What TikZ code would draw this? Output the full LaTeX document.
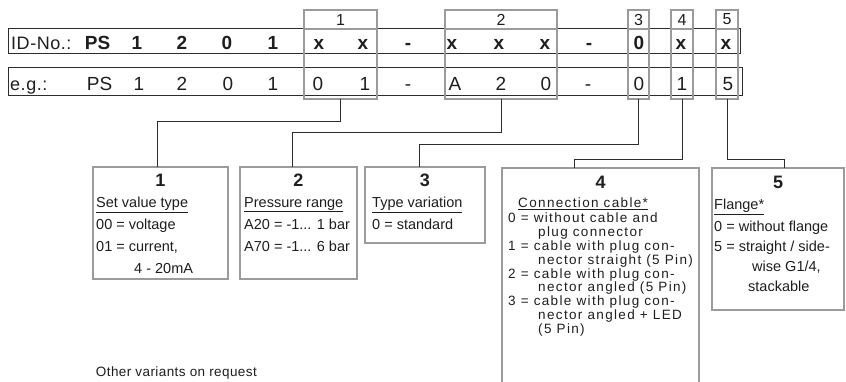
\documentclass[tikz,border=0pt]{standalone}
\usepackage{fontspec}
\setmainfont{Liberation Sans}
\newfontfamily\spacedfont[LetterSpace=10]{Liberation Sans}
\newfontfamily\labelfont[LetterSpace=3]{Liberation Sans}
\usetikzlibrary{positioning}
\definecolor{framegray}{RGB}{155,155,155}
\definecolor{wiredark}{RGB}{45,45,45}
\definecolor{textdark}{RGB}{30,30,30}

\begin{document}
\begin{tikzpicture}[x=1pt, y=-1pt, every node/.style={text=textdark, inner sep=0pt},
  rowframe/.style={draw=wiredark, line width=1pt, anchor=north west, outer sep=0pt},
  colhead/.style={draw=framegray, line width=2.2pt, minimum height=19pt, outer sep=0pt, font=\fontsize{16}{16}\selectfont},
  colbody/.style={draw=framegray, line width=2.2pt, minimum height=70pt, outer sep=0pt},
  idchar/.style={anchor=base, font=\bfseries\fontsize{19}{19}\selectfont},
  egchar/.style={anchor=base, font=\fontsize{19}{19}\selectfont},
  infobox/.style={draw=framegray, line width=2.2pt, anchor=north west, outer sep=0pt},
  infonum/.style={anchor=base, font=\bfseries\fontsize{18}{18}\selectfont},
  infotext/.style={anchor=north west, align=left, font=\fontsize{14.5}{22}\selectfont},
  wire/.style={draw=wiredark, line width=0.9pt}]

\clip (0,0) rectangle (846,382);

% code rows
\node[rowframe, minimum width=732pt, minimum height=25pt] (idrow) at (8,29) {};
\node[rowframe, minimum width=734pt, minimum height=28pt] (egrow) at (8,68) {};
\node[anchor=base west, font=\labelfont\fontsize{18}{18}\selectfont] (idlabel) at (11,49.5) {ID-No.:};
\node[anchor=base west, font=\labelfont\fontsize{18}{18}\selectfont] (eglabel) at (10,91) {e.g.:};
\foreach \n/\x/\t in {1/97.5/PS, 2/137/1, 3/182/2, 4/227/0, 5/273/1, 6/319/x, 7/363/x, 8/408/-,
    9/452/x, 10/499/x, 11/545/x, 12/589/-, 13/639/0, 14/681/x, 15/726/x}
  \node[idchar] (id\n) at (\x,49.5) {\t};
\foreach \n/\x/\t in {1/99.5/PS, 2/139/1, 3/182/2, 4/228/0, 5/273/1, 6/318/0, 7/365/1, 8/408/-,
    9/455/A, 10/501/2, 11/546/0, 12/588/-, 13/639/0, 14/682/1, 15/728/5}
  \node[egchar] (eg\n) at (\x,91) {\t};

% column frames
\node[colhead, minimum width=73pt] (h1) at (340.5,19.5) {1};
\node[colbody, minimum width=73pt, below=0pt of h1] (c1) {};
\node[colhead, minimum width=112pt] (h2) at (501,19.5) {2};
\node[colbody, minimum width=112pt, below=0pt of h2] (c2) {};
\node[colhead, minimum width=21pt] (h3) at (638.5,19.5) {3};
\node[colbody, minimum width=21pt, below=0pt of h3] (c3) {};
\node[colhead, minimum width=22pt] (h4) at (682,19.5) {4};
\node[colbody, minimum width=22pt, below=0pt of h4] (c4) {};
\node[colhead, minimum width=22pt] (h5) at (727,19.5) {5};
\node[colbody, minimum width=22pt, below=0pt of h5] (c5) {};

% explanation boxes
\node[infobox, minimum width=135pt, minimum height=112pt] (b1) at (93,167) {};
\node[infobox, minimum width=117pt, minimum height=112pt] (b2) at (240,167) {};
\node[infobox, minimum width=120pt, minimum height=76pt] (b3) at (365,167) {};
\node[infobox, minimum width=197pt, minimum height=230pt] (b4) at (502,168) {};
\node[infobox, minimum width=132pt, minimum height=142pt] (b5) at (712,168) {};

\node[infonum] (n1) at ([yshift=-20pt]b1.north) {1};
\node[infonum] (n2) at ([yshift=-20pt]b2.north) {2};
\node[infonum] (n3) at ([yshift=-20pt]b3.north) {3};
\node[infonum] (n4) at ([yshift=-21pt]b4.north) {4};
\node[infonum] (n5) at ([yshift=-21pt]b5.north) {5};

\node[infotext] (t1) at ([xshift=3pt,yshift=-30pt]b1.north west)
  {\underline{Set value type}\\00 = voltage\\01 = current,\\\hspace*{38pt}4 - 20mA};
\node[infotext] (t2) at ([xshift=4pt,yshift=-30pt]b2.north west)
  {\underline{Pressure range}\\A20 = -1... 1 bar\\A70 = -1... 6 bar};
\node[infotext] (t3) at ([xshift=7pt,yshift=-30pt]b3.north west)
  {\underline{Type variation}\\0 = standard};
\node[infotext, font=\spacedfont\fontsize{13.5}{13.8}\selectfont] (t4) at ([xshift=6pt,yshift=-30pt]b4.north west)
  {\hspace*{10pt}\underline{Connection cable*}\\[1.2pt]
   0 = without cable and\\\hspace*{30pt}plug connector\\
   1 = cable with plug con-\\\hspace*{30pt}nector straight (5 Pin)\\
   2 = cable with plug con-\\\hspace*{30pt}nector angled (5 Pin)\\
   3 = cable with plug con-\\\hspace*{30pt}nector angled + LED\\\hspace*{30pt}(5 Pin)};
\node[infotext, font=\fontsize{14.5}{20}\selectfont] (t5) at ([xshift=2pt,yshift=-31pt]b5.north west)
  {\underline{Flange*}\\[2pt]0 = without flange\\5 = straight / side-\\\hspace*{38pt}wise G1/4,\\\hspace*{34pt}stackable};

\node[anchor=base east, font=\labelfont\fontsize{13.5}{13.5}\selectfont] (note) at (257,376) {Other variants on request};

% connectors
\draw[wire] (c1.south) -- ++(0,22) -| ([xshift=64pt]b1.north west);
\draw[wire] (c2.south) -- ++(0,33) -| ([xshift=52pt]b2.north west);
\draw[wire] (c3.south) -- ++(0,45) -| ([xshift=54pt]b3.north west);
\draw[wire] (c4.south) -- ++(0,60) -| ([xshift=72pt]b4.north west);
\draw[wire] (c5.south) -- ++(0,60) -| ([xshift=72pt]b5.north west);
\end{tikzpicture}
\end{document}
